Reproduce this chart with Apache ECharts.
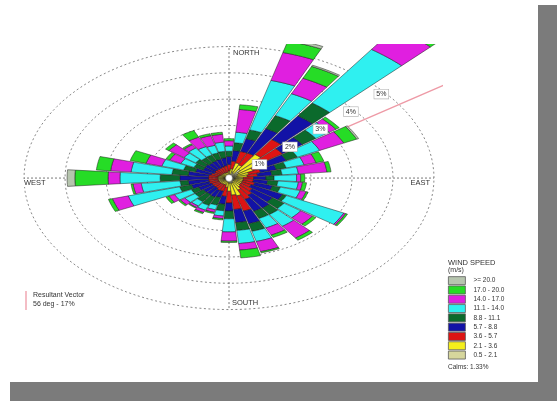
<!DOCTYPE html>
<html>
<head>
<meta charset="utf-8">
<script src="https://cdn.jsdelivr.net/npm/echarts@6/dist/echarts.min.js"></script>
<style>
  html, body { margin: 0; padding: 0; background: #ffffff; }
  #chart { width: 557px; height: 401px; }
</style>
</head>
<body>
<div id="chart"></div>
<script>
// Wind directions (degrees, blowing from), one sector each
const directions = [0, 10, 20, 30, 40, 50, 60, 70, 80, 90, 100, 110, 120, 130, 140, 150, 160, 170,
                    180, 190, 200, 210, 220, 230, 240, 250, 260, 270, 280, 290, 300, 310, 320, 330, 340, 350];

// Speed classes, slowest first
const speedClasses = ['0.5 - 2.1', '2.1 - 3.6', '3.6 - 5.7', '5.7 - 8.8', '8.8 - 11.1',
                      '11.1 - 14.0', '14.0 - 17.0', '17.0 - 20.0', '>= 20.0'];

// Frequency (%) of each speed class per direction
const freqClass1 = [.12,.15,.25,.20,.40,.30,.25,.20,.20,.15,.15,.15,.15,.15,.15,.20,.20,.20,.20,.15,.12,.12,.12,.12,.12,.12,.12,.12,.12,.10,.10,.10,.10,.10,.10,.10];
const freqClass2 = [.15,.20,.35,.35,.70,.60,.40,.30,.25,.20,.20,.20,.20,.20,.25,.30,.50,.45,.30,.20,.15,.15,.15,.15,.15,.15,.15,.15,.15,.15,.12,.12,.12,.12,.12,.12];
const freqClass3 = [.25,.30,.45,.50,.70,.70,.40,.30,.25,.25,.25,.30,.25,.35,.40,.40,.60,.55,.45,.35,.25,.25,.20,.20,.20,.23,.23,.23,.23,.20,.18,.20,.20,.20,.22,.25];
const freqClass4 = [.30,.40,.50,1.03,1.10,.60,.50,.40,.35,.30,.35,.45,.85,.60,.60,.50,.50,.50,.30,.30,.25,.28,.30,.30,.35,.45,.50,.70,.50,.40,.30,.30,.28,.30,.30,.30];
const freqClass5 = [.20,.30,.35,.55,.60,.40,.30,.25,.25,.20,.25,.20,.10,.35,.30,.30,.30,.30,.30,.25,.30,.35,.33,.25,.20,.30,.20,.48,.40,.30,.25,.28,.25,.25,.25,.25];
const freqClass6 = [.20,.40,1.95,.92,2.50,.40,.60,.45,.40,.55,.50,.50,1.55,.50,.55,.40,.40,.50,.50,.20,.18,.20,.20,.30,.45,1.30,.95,.98,1.00,.55,.35,.35,.45,.35,.30,.35];
const freqClass7 = [.20,.87,1.10,.65,1.00,.20,.65,.30,.70,.10,.10,.15,.05,.35,.55,.30,.40,.25,.35,.10,.10,.10,.07,.13,.15,.40,.20,.29,.50,.40,.30,.45,.15,.40,.38,.30];
const freqClass8 = [.08,.18,.45,.50,.35,.10,.35,.20,.10,.10,.10,.05,.05,.10,.10,.10,.05,.30,.05,.05,.05,.05,.03,.05,.08,.10,.05,.81,.35,.40,.10,.10,.05,.28,.08,.08];
const freqClass9 = [0,0,.10,.05,.10,0,.05,0,0,0,0,0,0,0,0,0,0,0,0,0,0,0,0,0,0,0,0,.19,0,0,0,0,0,0,0,0];

const freqByClass = [freqClass1, freqClass2, freqClass3, freqClass4, freqClass5,
                     freqClass6, freqClass7, freqClass8, freqClass9];

// Ring values (%) and compass labels
const ringPercents = [1, 2, 3, 4, 5];
const compassNames = ['NORTH', 'EAST', 'SOUTH', 'WEST'];
const compassAngles = [0, 90, 180, 270];

// Resultant vector and calms
const resultantDeg = 56;
const resultantPct = 17;
const calmsPct = 1.33;

const classColors = ['#d6d69c', '#f4ee1c', '#dd1414', '#1212a6', '#0b6a2c',
                     '#2ff0f0', '#e01fe0', '#26dc26', '#b6c5ae'];
const FONT = '"Liberation Sans", Arial, sans-serif';
const SECTOR_HALF = 4.6;
const OUTER = ringPercents[ringPercents.length - 1];

function polar(api, deg, r) {
  const t = deg * Math.PI / 180;
  return api.coord([r * Math.sin(t), r * Math.cos(t)]);
}

// Stack the classes outward for every direction
const classSeriesData = freqByClass.map(() => []);
directions.forEach((dir, i) => {
  let inner = 0;
  freqByClass.forEach((arr, c) => {
    const v = arr[i];
    if (v > 0) classSeriesData[c].push([dir, inner, inner + v]);
    inner += v;
  });
});

function sectorRender(params, api) {
  const dir = api.value(0), r0 = api.value(1), r1 = api.value(2);
  const n = 8, pts = [];
  for (let k = 0; k <= n; k++) pts.push(polar(api, dir - SECTOR_HALF + 2 * SECTOR_HALF * k / n, r1));
  for (let k = n; k >= 0; k--) pts.push(polar(api, dir - SECTOR_HALF + 2 * SECTOR_HALF * k / n, r0));
  return {
    type: 'polygon',
    shape: { points: pts },
    style: { fill: api.visual('color'), stroke: '#1c1c1c', lineWidth: 0.5 }
  };
}

const sectorSeries = speedClasses.map((name, c) => ({
  name: name,
  type: 'custom',
  coordinateSystem: 'cartesian2d',
  clip: true,
  z: 3,
  silent: true,
  itemStyle: { color: classColors[c] },
  renderItem: sectorRender,
  data: classSeriesData[c]
}));

const ringSeries = {
  type: 'custom',
  coordinateSystem: 'cartesian2d',
  z: 1,
  silent: true,
  renderItem: function (params, api) {
    const r = api.value(0);
    const pts = [];
    for (let a = 0; a <= 360; a += 3) pts.push(polar(api, a, r));
    return {
      type: 'polyline',
      shape: { points: pts },
      style: { stroke: '#7a7a7a', lineWidth: 0.9, lineDash: [2, 2.5], fill: null }
    };
  },
  data: ringPercents.map(p => [p])
};

const ringLabelSeries = {
  type: 'custom',
  coordinateSystem: 'cartesian2d',
  z: 6,
  silent: true,
  renderItem: function (params, api) {
    const r = api.value(0);
    const p = polar(api, 48, r);
    return {
      type: 'text',
      x: p[0], y: p[1] + 4,
      style: {
        text: r + '%', font: '7px ' + FONT, fill: '#333',
        align: 'center', verticalAlign: 'middle',
        backgroundColor: '#ffffff', borderColor: '#b0b0b0', borderWidth: 0.6,
        padding: [1, 2]
      }
    };
  },
  data: ringPercents.map(p => [p])
};

const compassSeries = {
  type: 'custom',
  coordinateSystem: 'cartesian2d',
  z: 2,
  silent: true,
  renderItem: function (params, api) {
    const ang = api.value(0);
    const name = compassNames[params.dataIndex];
    const c = polar(api, 0, 0);
    const e = polar(api, ang, OUTER);
    let tx = e[0], ty = e[1], align = 'left';
    if (ang === 0) { tx += 3; ty += 6; }
    else if (ang === 180) { tx += 2; ty -= 7; }
    else if (ang === 270) { tx -= 1; ty += 5; }
    else { tx -= 3; ty += 5; align = 'right'; }
    return {
      type: 'group',
      children: [
        { type: 'line', shape: { x1: c[0], y1: c[1], x2: e[0], y2: e[1] },
          style: { stroke: '#6a6a6a', lineWidth: 0.9, lineDash: [2, 2] } },
        { type: 'text', x: tx, y: ty, z2: 10,
          style: { text: name, font: '7.5px ' + FONT, fill: '#333', align: align, verticalAlign: 'middle',
                   backgroundColor: '#ffffff', padding: [0, 1] } }
      ]
    };
  },
  data: compassAngles.map(a => [a])
};

const resultantSeries = {
  type: 'custom',
  coordinateSystem: 'cartesian2d',
  clip: true,
  z: 2,
  silent: true,
  renderItem: function (params, api) {
    const c = polar(api, 0, 0);
    const e = polar(api, api.value(0), api.value(1));
    return {
      type: 'line',
      shape: { x1: c[0], y1: c[1], x2: e[0], y2: e[1] },
      style: { stroke: '#ee9aa6', lineWidth: 1.3 }
    };
  },
  data: [[resultantDeg, resultantPct]]
};

const centerSeries = {
  type: 'custom',
  coordinateSystem: 'cartesian2d',
  z: 7,
  silent: true,
  renderItem: function (params, api) {
    const c = polar(api, 0, 0);
    return { type: 'circle', shape: { cx: c[0], cy: c[1], r: 3.4 },
             style: { fill: '#ffffff', stroke: '#8a8a8a', lineWidth: 0.5 } };
  },
  data: [[0]]
};

const chart = echarts.init(document.getElementById('chart'), null, { renderer: 'canvas' });
chart.setOption({
  animation: false,
  backgroundColor: '#ffffff',
  color: classColors,
  grid: { left: 7.6, top: 43.9, width: 434.6, height: 276.2, containLabel: false },
  xAxis: { type: 'value', min: -5.4, max: 5.2, show: false },
  yAxis: { type: 'value', min: -5.4, max: 5.1, show: false },
  legend: {
    data: speedClasses.slice().reverse(),
    orient: 'vertical',
    left: 448, top: 276,
    itemWidth: 17, itemHeight: 8, itemGap: 0,
    icon: 'rect',
    selectedMode: false,
    padding: 0,
    itemStyle: { borderColor: '#5a5a5a', borderWidth: 0.8 },
    textStyle: { fontSize: 6.5, lineHeight: 9.3, fontFamily: FONT, color: '#333', padding: [0, 0, 0, 3] }
  },
  graphic: [
    { type: 'rect', shape: { x: 538, y: 5, width: 19, height: 396 }, style: { fill: '#7b7b7b' } },
    { type: 'rect', shape: { x: 10, y: 382, width: 547, height: 19 }, style: { fill: '#7b7b7b' } },
    { type: 'text', x: 448, y: 259, style: { text: 'WIND SPEED', font: '7.5px ' + FONT, fill: '#333' } },
    { type: 'text', x: 448, y: 267, style: { text: '(m/s)', font: '7px ' + FONT, fill: '#333' } },
    { type: 'text', x: 448, y: 364, style: { text: 'Calms: ' + calmsPct.toFixed(2) + '%', font: '6.5px ' + FONT, fill: '#333' } },
    { type: 'line', shape: { x1: 26, y1: 291, x2: 26, y2: 310 }, style: { stroke: '#ee9aa6', lineWidth: 1.3 } },
    { type: 'text', x: 33, y: 292, style: { text: 'Resultant Vector', font: '7px ' + FONT, fill: '#333' } },
    { type: 'text', x: 33, y: 301, style: { text: resultantDeg + ' deg - ' + resultantPct + '%', font: '7px ' + FONT, fill: '#333' } }
  ],
  series: [ringSeries, compassSeries, resultantSeries].concat(sectorSeries, [ringLabelSeries, centerSeries])
});
</script>
</body>
</html>
